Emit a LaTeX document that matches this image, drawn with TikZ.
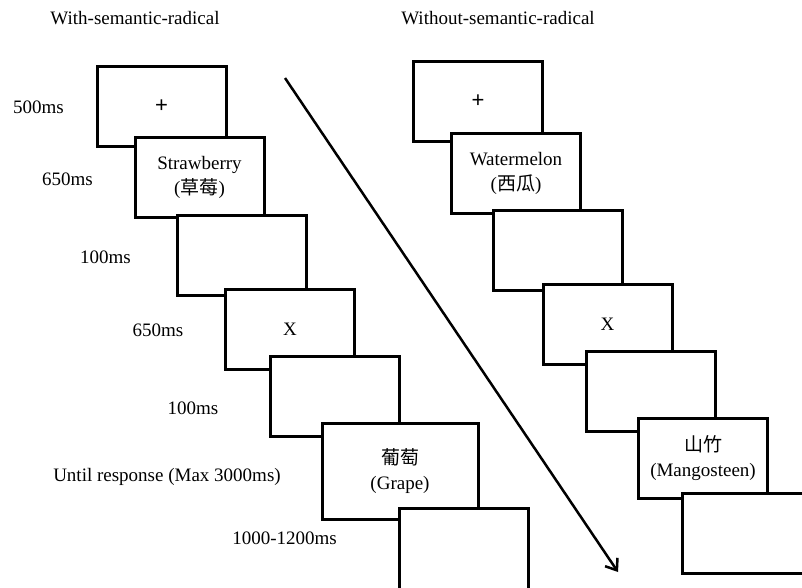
\documentclass[tikz,border=0pt]{standalone}
\usepackage{fontspec}
\setmainfont{Liberation Serif}
\newfontfamily\cjk{Noto Sans CJK SC}
\newfontfamily\plusfont{Liberation Sans}
\usetikzlibrary{arrows.meta}
\begin{document}
\begin{tikzpicture}[x=1pt,y=-1pt,
  every node/.style={font=\fontsize{19}{25}\selectfont, inner sep=0pt},
  screen/.style={draw=black, line width=3pt, fill=white, minimum width=129pt, minimum height=80pt, align=center},
  plus/.style={font=\plusfont\fontsize{22}{25}\selectfont},
  lbl/.style={anchor=center}]
\useasboundingbox (0,0) rectangle (802,587);
\clip (0,0) rectangle (802,587);
% titles
\node[lbl] (t1) at (135,18) {With-semantic-radical};
\node[lbl] (t2) at (498,18) {Without-semantic-radical};
% arrow
\coordinate (a1) at (285,78);
\coordinate (a2) at (618,572);
\draw[line width=2.5pt, -{Straight Barb[length=10pt,width=15pt,line width=2.5pt]}] (a1) -- (a2);
% left column
\node[screen, plus] (L1) at (161.5,106) {+};
\node[screen] (L2) at (199.5,177.5) {Strawberry\\({\cjk 草莓})};
\node[screen] (L3) at (242,255) {};
\node[screen] (L4) at (290,329) {X};
\node[screen] (L5) at (334.5,396) {};
\node[screen, minimum width=156pt, minimum height=96pt] (L6) at (400,471) {{\cjk 葡萄}\\(Grape)};
\node[screen, minimum height=100pt] (L7) at (463.5,558) {};
% left labels
\node[lbl] (d1) at (38.5,107) {500ms};
\node[lbl] (d2) at (67.5,179) {650ms};
\node[lbl] (d3) at (105.5,257) {100ms};
\node[lbl] (d4) at (158,330) {650ms};
\node[lbl] (d5) at (193,408) {100ms};
\node[lbl] (d6) at (167,477) {Until response (Max 3000ms)};
\node[lbl] (d7) at (284.5,538) {1000-1200ms};
% right column
\node[screen, plus] (R1) at (478,101) {+};
\node[screen] (R2) at (516,173.5) {Watermelon\\({\cjk 西瓜})};
\node[screen] (R3) at (558,250.5) {};
\node[screen] (R4) at (607.5,324) {X};
\node[screen] (R5) at (650.5,391) {};
\node[screen] (R6) at (703,458) {{\cjk 山竹}\\(Mangosteen)};
\node[screen] (R7) at (746.5,533) {};
\end{tikzpicture}
\end{document}
